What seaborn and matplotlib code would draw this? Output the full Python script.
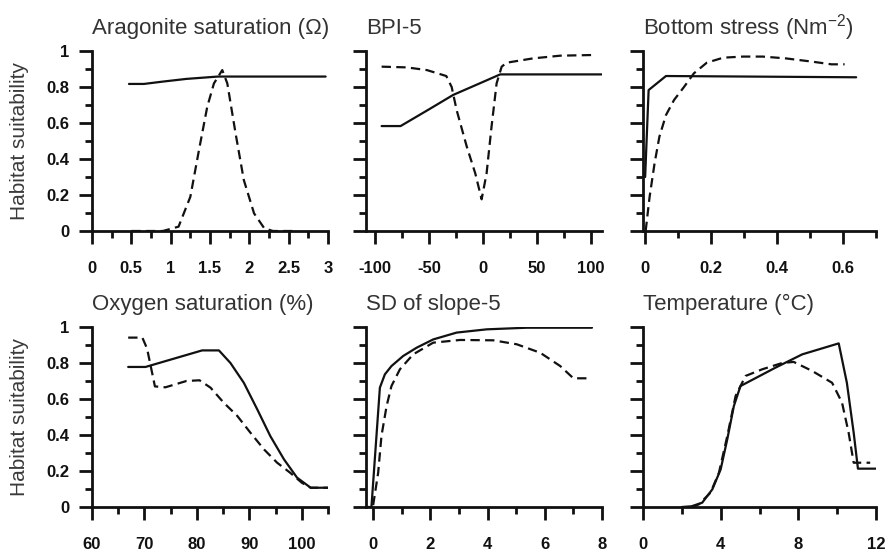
import matplotlib
matplotlib.use("Agg")
import matplotlib.pyplot as plt
import seaborn as sns
import pandas as pd
from matplotlib.ticker import MultipleLocator

# ---- Aragonite saturation (Omega) ----
arag_solid_x = [0.47, 0.66, 0.9, 1.2, 1.6, 2.97]
arag_solid_y = [0.817, 0.817, 0.83, 0.845, 0.858, 0.858]
arag_dash_x = [0.5, 0.9, 1.1, 1.25, 1.36, 1.465, 1.55, 1.656, 1.72, 1.826, 1.93, 2.06, 2.19, 2.3, 2.6]
arag_dash_y = [0.0, 0.0, 0.024, 0.19, 0.45, 0.69, 0.82, 0.894, 0.82, 0.54, 0.283, 0.098, 0.015, 0.0, 0.0]

# ---- BPI-5 ----
bpi_solid_x = [-94, -76.4, -50, -27.6, 0, 16, 111]
bpi_solid_y = [0.583, 0.583, 0.676, 0.756, 0.828, 0.87, 0.87]
bpi_dash_x = [-94, -70.8, -52, -34, -29, -24.4, -15, -7.1, -1.2, 3.4, 8, 12.7, 17.4, 22, 46.5, 71.7, 104]
bpi_dash_y = [0.913, 0.909, 0.894, 0.861, 0.80, 0.672, 0.469, 0.32, 0.176, 0.32, 0.58, 0.82, 0.913, 0.935, 0.959, 0.974, 0.978]

# ---- Bottom stress ----
stress_solid_x = [0.0015, 0.012, 0.0645, 0.64]
stress_solid_y = [0.30, 0.783, 0.861, 0.854]
stress_dash_x = [0.003, 0.015, 0.030, 0.0446, 0.0645, 0.089, 0.119, 0.149, 0.188, 0.238, 0.298, 0.357, 0.427, 0.506, 0.565, 0.605]
stress_dash_y = [0.0, 0.19, 0.376, 0.524, 0.644, 0.728, 0.80, 0.876, 0.935, 0.963, 0.969, 0.969, 0.959, 0.941, 0.926, 0.926]

# ---- Oxygen saturation ----
oxy_solid_x = [66.9, 70.2, 81.0, 84.2, 86.4, 88.95, 91.5, 94.0, 96.6, 99.1, 101.7, 105.0]
oxy_solid_y = [0.778, 0.778, 0.870, 0.870, 0.80, 0.69, 0.543, 0.394, 0.265, 0.163, 0.107, 0.107]
oxy_dash_x = [66.9, 69.6, 70.5, 72.0, 74.0, 78.0, 80.5, 82.6, 85.1, 87.7, 90.2, 92.8, 95.3, 97.8, 100.0, 101.7, 105.0]
oxy_dash_y = [0.941, 0.941, 0.88, 0.67, 0.665, 0.70, 0.704, 0.663, 0.58, 0.506, 0.413, 0.32, 0.246, 0.19, 0.135, 0.107, 0.107]

# ---- SD of slope-5 ----
sd_solid_x = [-0.2, -0.06, 0.235, 0.41, 0.64, 1.05, 1.52, 2.10, 2.92, 3.97, 5.37, 7.65]
sd_solid_y = [0.0, 0.0, 0.663, 0.737, 0.783, 0.839, 0.885, 0.931, 0.969, 0.987, 0.996, 0.996]
sd_dash_x = [0.0, 0.175, 0.29, 0.47, 0.64, 0.935, 1.40, 2.10, 3.04, 4.20, 5.02, 5.84, 6.54, 7.0, 7.53]
sd_dash_y = [0.01, 0.19, 0.394, 0.561, 0.672, 0.765, 0.848, 0.913, 0.928, 0.926, 0.904, 0.857, 0.783, 0.715, 0.715]

# ---- Temperature ----
temp_solid_x = [2.0, 2.5, 3.05, 3.57, 4.0, 4.34, 4.68, 5.02, 6.82, 8.2, 10.08, 10.5, 10.85, 11.07, 12.0]
temp_solid_y = [0.0, 0.004, 0.024, 0.098, 0.209, 0.376, 0.561, 0.672, 0.774, 0.848, 0.909, 0.69, 0.413, 0.213, 0.213]
temp_dash_x = [2.5, 2.88, 3.48, 3.91, 4.34, 4.77, 5.28, 6.14, 7.17, 7.76, 8.71, 9.74, 10.25, 10.59, 10.85, 11.0, 11.7]
temp_dash_y = [0.0, 0.015, 0.08, 0.19, 0.394, 0.617, 0.728, 0.765, 0.80, 0.806, 0.756, 0.69, 0.58, 0.413, 0.246, 0.246, 0.246]

# ---- Panel titles and axis ticks ----
titles = ["Aragonite saturation (\u03a9)", "BPI-5", "Bottom stress (Nm$^{-2}$)",
          "Oxygen saturation (%)", "SD of slope-5", "Temperature (\u00b0C)"]
xticks = [[0, 0.5, 1, 1.5, 2, 2.5, 3],
          [-100, -50, 0, 50, 100],
          [0, 0.2, 0.4, 0.6],
          [60, 70, 80, 90, 100],
          [0, 2, 4, 6, 8],
          [0, 4, 8, 12]]
xticklabels = [["0", "0.5", "1", "1.5", "2", "2.5", "3"],
               ["-100", "-50", "0", "50", "100"],
               ["0", "0.2", "0.4", "0.6"],
               ["60", "70", "80", "90", "100"],
               ["0", "2", "4", "6", "8"],
               ["0", "4", "8", "12"]]
xminor = [0.25, 25, 0.1, 5, 1, 2]
xlims = [(0, 3), (-108.5, 110.5), (-0.005, 0.70), (60, 105), (-0.25, 8), (0, 12)]
yticks = [0, 0.2, 0.4, 0.6, 0.8, 1]
yticklabels = ["0", "0.2", "0.4", "0.6", "0.8", "1"]
ylabel = "Habitat suitability"

solid_curves = [(arag_solid_x, arag_solid_y), (bpi_solid_x, bpi_solid_y),
                (stress_solid_x, stress_solid_y), (oxy_solid_x, oxy_solid_y),
                (sd_solid_x, sd_solid_y), (temp_solid_x, temp_solid_y)]
dashed_curves = [(arag_dash_x, arag_dash_y), (bpi_dash_x, bpi_dash_y),
                 (stress_dash_x, stress_dash_y), (oxy_dash_x, oxy_dash_y),
                 (sd_dash_x, sd_dash_y), (temp_dash_x, temp_dash_y)]

sns.set_style("ticks")
plt.rcParams["font.family"] = ["Liberation Sans", "DejaVu Sans"]
plt.rcParams["mathtext.default"] = "regular"

fig = plt.figure(figsize=(8.86, 5.52), dpi=100)

W, H = 886, 552
col_left = [92, 366, 643]
col_width = [236, 236, 233]
row_y0 = [231, 507]  # pixel row of y = 0
ax_h = 180

title_color = "#333333"
label_color = "#3a3a3a"
ink = "#111111"

for i in range(6):
    r, c = divmod(i, 3)
    ax = fig.add_axes([col_left[c] / W, (H - row_y0[r]) / H, col_width[c] / W, ax_h / H])

    sx, sy = solid_curves[i]
    dx, dy = dashed_curves[i]
    sns.lineplot(data=pd.DataFrame({"x": dx, "y": dy}), x="x", y="y", ax=ax,
                 color=ink, lw=1.6, estimator=None, sort=False,
                 linestyle=(0, (4.2, 2.4)))
    sns.lineplot(data=pd.DataFrame({"x": sx, "y": sy}), x="x", y="y", ax=ax,
                 color=ink, lw=1.6, estimator=None, sort=False)

    ax.set_xlim(*xlims[i])
    ax.set_ylim(0, 1)
    ax.set_xlabel("")
    ax.set_ylabel("")

    ax.set_xticks(xticks[i])
    ax.set_xticklabels(xticklabels[i])
    ax.xaxis.set_minor_locator(MultipleLocator(xminor[i]))
    ax.set_yticks(yticks)
    ax.yaxis.set_minor_locator(MultipleLocator(0.1))
    if c == 0:
        ax.set_yticklabels(yticklabels)
    else:
        ax.set_yticklabels([])

    sns.despine(ax=ax)
    for side in ("left", "bottom"):
        ax.spines[side].set_linewidth(2.0)
        ax.spines[side].set_color(ink)

    ax.tick_params(which="major", direction="out", length=9.5, width=2.0,
                   color=ink, labelsize=12, labelcolor=ink)
    ax.tick_params(axis="x", which="major", pad=12)
    ax.tick_params(axis="y", which="major", pad=7)
    ax.tick_params(which="minor", direction="out", length=5, width=2.0, color=ink)
    for lab in ax.get_xticklabels() + ax.get_yticklabels():
        lab.set_fontweight("bold")

    ax.set_title(titles[i], loc="left", pad=12, fontsize=16, color=title_color)

    if c == 0:
        ycen = (H - (row_y0[r] - ax_h / 2)) / H
        fig.text(20 / W, ycen, ylabel, rotation=90,
                 ha="center", va="center", fontsize=15, color=label_color)

fig.savefig("out.png", dpi=100)
